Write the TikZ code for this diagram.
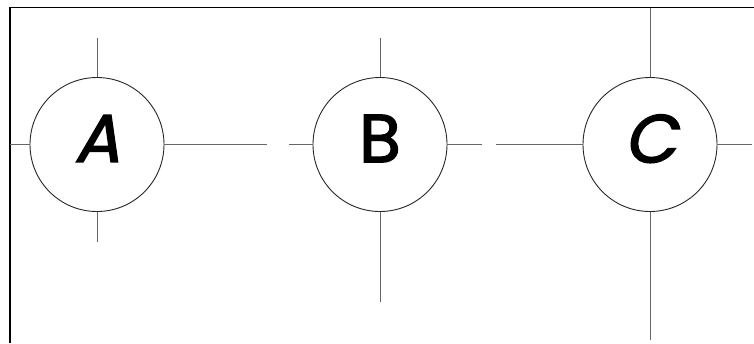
\documentclass[tikz,border=0pt]{standalone}
\usepackage{fontspec}
\newfontfamily\lblup{Poppins}[FakeBold=2.2]
\newfontfamily\lblsl{Poppins}[FakeBold=2.2,FakeSlant=0.22]
\begin{document}
\begin{tikzpicture}[x=1bp,y=-1bp,
  ring/.style={circle,draw=black!85,line width=0.9bp,minimum size=134bp,inner sep=0pt,
    font=\fontsize{68}{68}\selectfont},
  tick/.style={draw=black!60,line width=1bp},
  frame/.style={draw=black,line width=1.6bp}]
\useasboundingbox (0,0) rectangle (754,343);
\draw[frame] (10,343) -- (10,7.5) -- (754,7.5);
\node[ring] (A) at (97,144.5) {\raisebox{12bp}{\lblsl A}};
\node[ring] (B) at (380,144.5) {\raisebox{12bp}{\lblup B}};
\node[ring] (C) at (650,144.5) {\raisebox{12bp}{\lblsl C}};
% free ends
\coordinate (a1) at (97,38);
\coordinate (a2) at (97,242);
\coordinate (a3) at (10,144.5);
\coordinate (a4) at (267,144.5);
\coordinate (b1) at (380,38);
\coordinate (b2) at (380,302);
\coordinate (b3) at (289,144.5);
\coordinate (b4) at (482,144.5);
\coordinate (c1) at (650,8.3);
\coordinate (c2) at (650,340);
\coordinate (c3) at (496,144.5);
\coordinate (c4) at (752,144.5);
\draw[tick] (A.north) -- (a1);
\draw[tick] (A.south) -- (a2);
\draw[tick] (A.west) -- (a3);
\draw[tick] (A.east) -- (a4);
\draw[tick] (B.north) -- (b1);
\draw[tick] (B.south) -- (b2);
\draw[tick] (B.west) -- (b3);
\draw[tick] (B.east) -- (b4);
\draw[tick] (C.north) -- (c1);
\draw[tick] (C.south) -- (c2);
\draw[tick] (C.west) -- (c3);
\draw[tick] (C.east) -- (c4);
\end{tikzpicture}
\end{document}
